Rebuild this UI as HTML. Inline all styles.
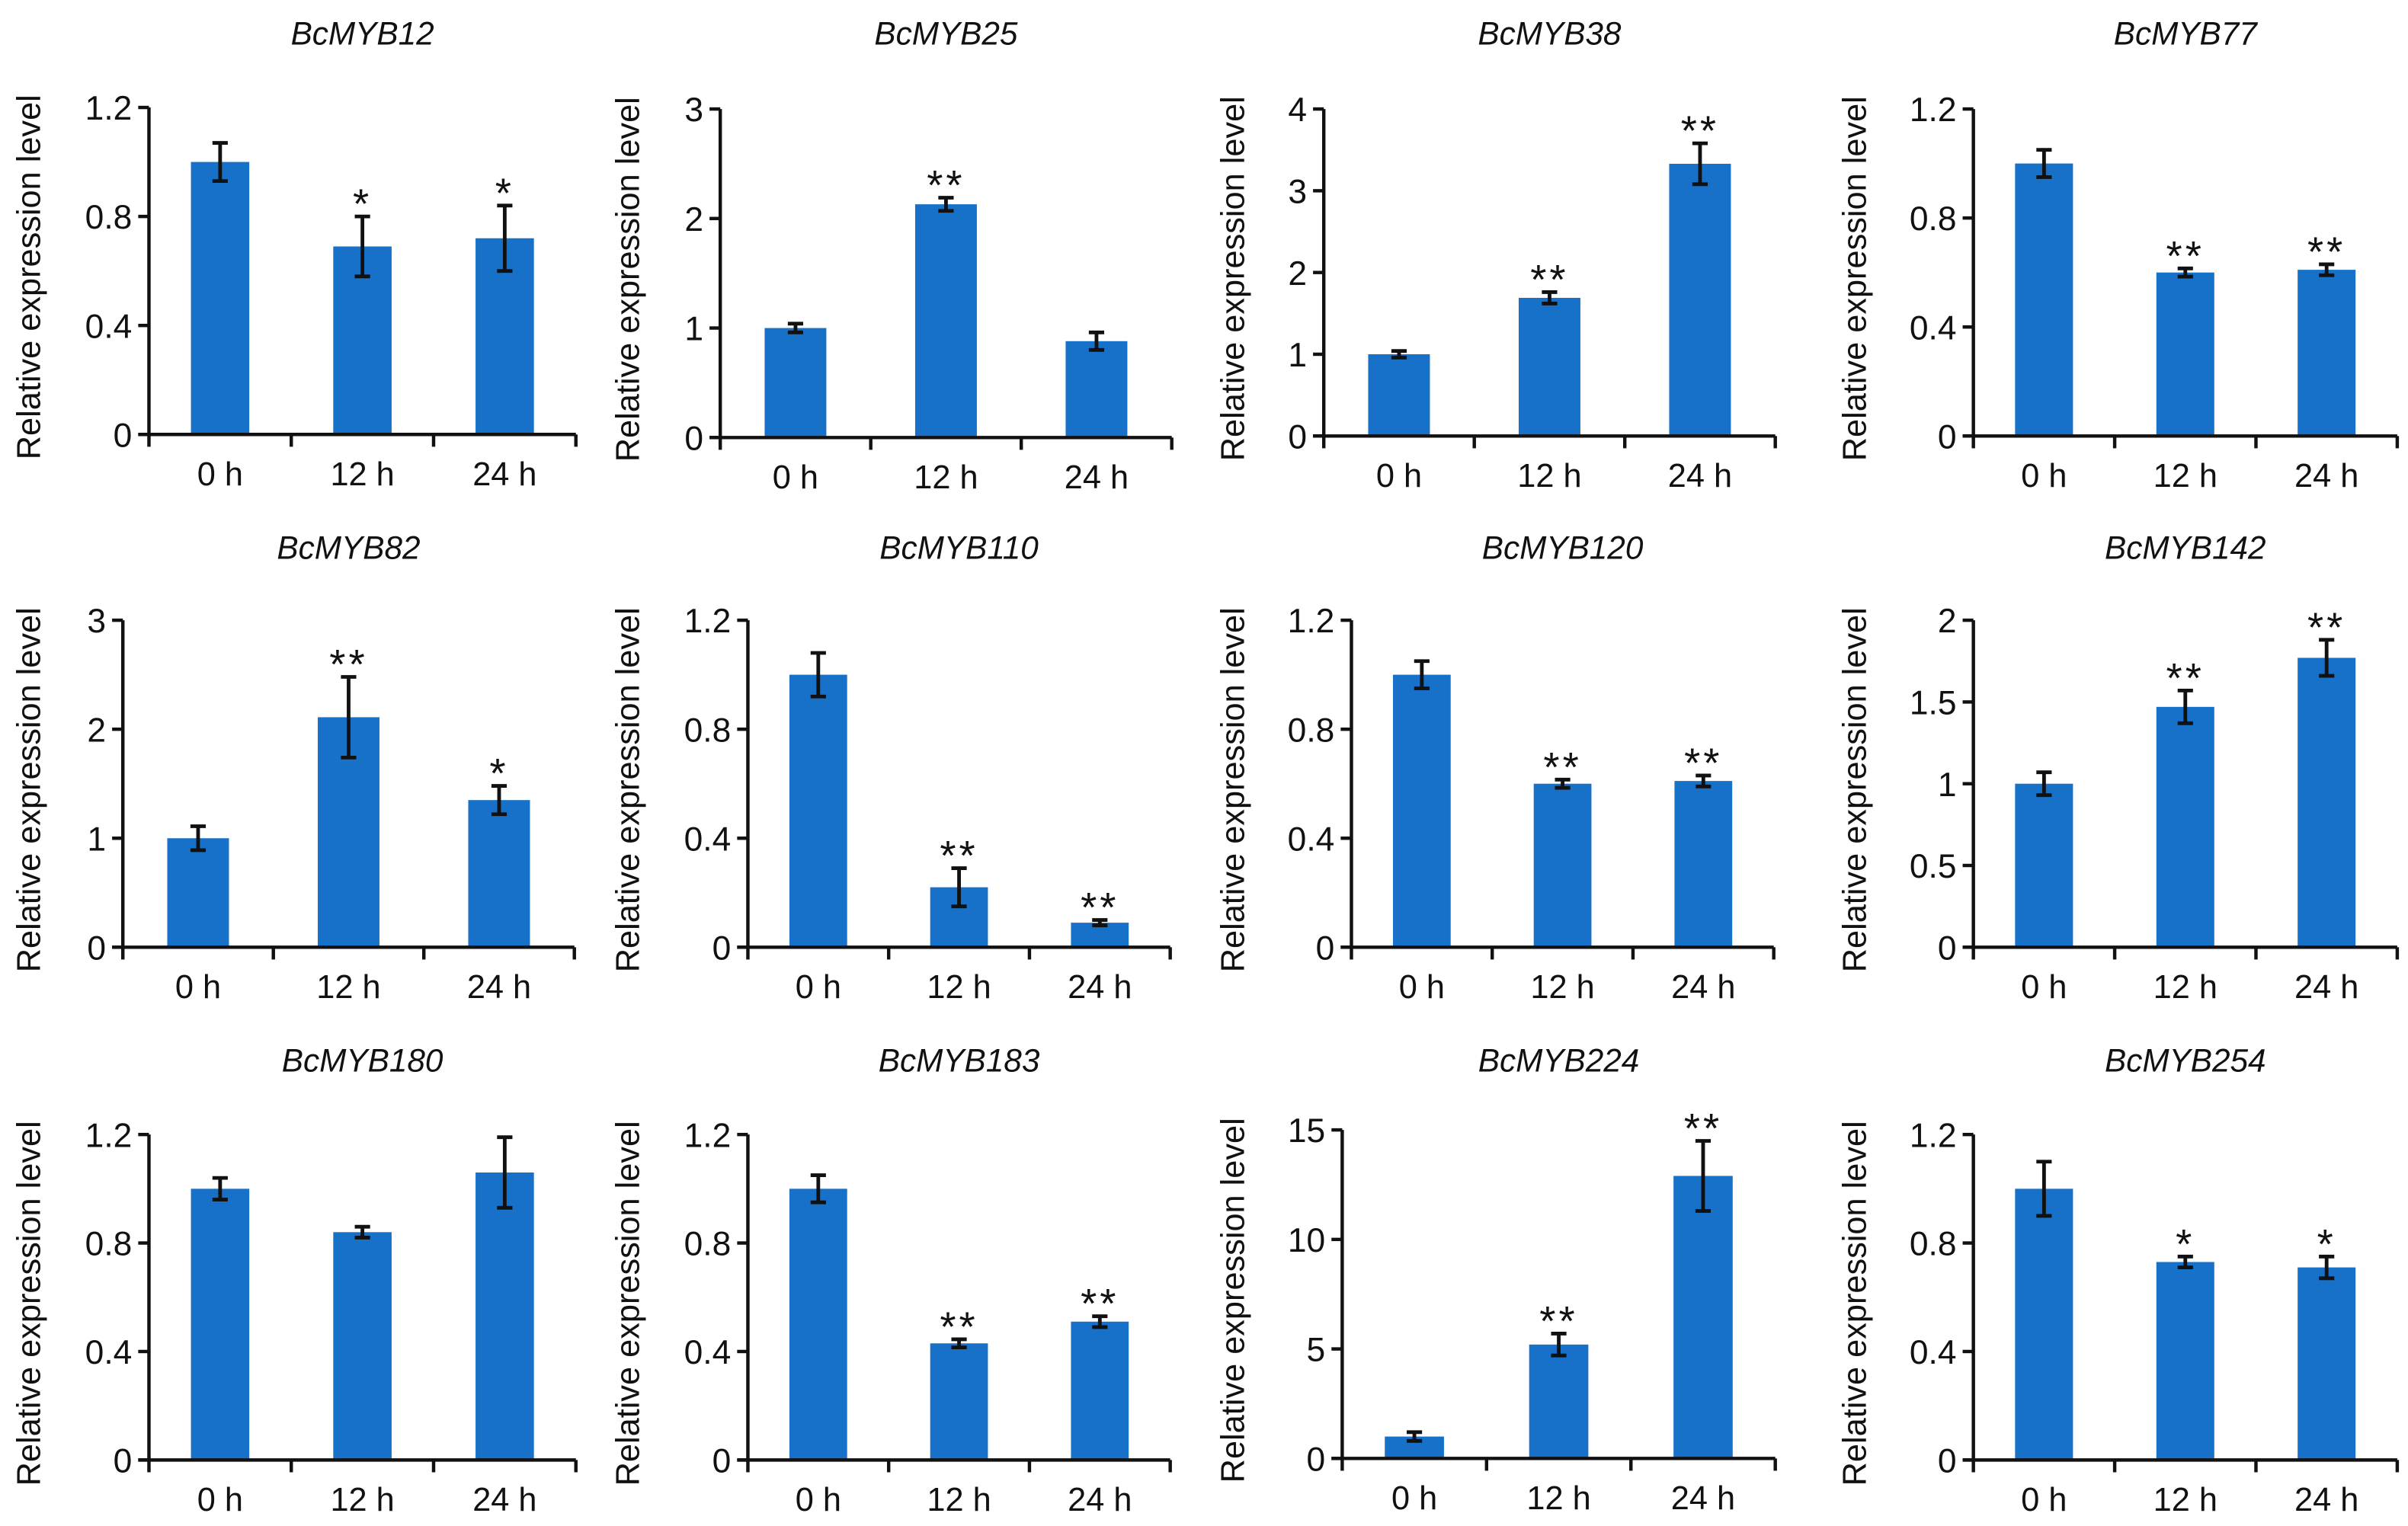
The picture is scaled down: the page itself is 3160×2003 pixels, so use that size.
<!DOCTYPE html>
<html><head><meta charset="utf-8"><style>
html,body{margin:0;padding:0;background:#fff}
svg{display:block}
text{font-family:"Liberation Sans",Arial,sans-serif;fill:#111}
</style></head><body>
<svg id="fig" width="3160" height="2003" viewBox="0 0 1568 994" preserveAspectRatio="none" xmlns="http://www.w3.org/2000/svg"></svg>
<script>
const categories = ["0 h","12 h","24 h"];
const geneNames = ["BcMYB12","BcMYB25","BcMYB38","BcMYB77","BcMYB82","BcMYB110","BcMYB120","BcMYB142","BcMYB180","BcMYB183","BcMYB224","BcMYB254"];
const meanValues = [
 [1.0,0.69,0.72],[1.0,2.13,0.88],[1.0,1.69,3.33],[1.0,0.60,0.61],
 [1.0,2.11,1.35],[1.0,0.22,0.09],[1.0,0.60,0.61],[1.0,1.47,1.77],
 [1.0,0.84,1.06],[1.0,0.43,0.51],[1.0,5.2,12.9],[1.0,0.73,0.71]];
const errorValues = [
 [0.07,0.11,0.12],[0.04,0.06,0.08],[0.04,0.07,0.25],[0.05,0.015,0.02],
 [0.11,0.37,0.13],[0.08,0.07,0.01],[0.05,0.015,0.02],[0.07,0.10,0.11],
 [0.04,0.02,0.13],[0.05,0.015,0.02],[0.2,0.5,1.6],[0.1,0.02,0.04]];
const significance = [
 ["","*","*"],["","**",""],["","**","**"],["","**","**"],
 ["","**","*"],["","**","**"],["","**","**"],["","**","**"],
 ["","",""],["","**","**"],["","**","**"],["","*","*"]];
const yTicks = [
 ["0","0.4","0.8","1.2"],["0","1","2","3"],["0","1","2","3","4"],["0","0.4","0.8","1.2"],
 ["0","1","2","3"],["0","0.4","0.8","1.2"],["0","0.4","0.8","1.2"],["0","0.5","1","1.5","2"],
 ["0","0.4","0.8","1.2"],["0","0.4","0.8","1.2"],["0","5","10","15"],["0","0.4","0.8","1.2"]];
// layout (axis boxes, in viewBox units)
const layout = [
 [97,375,70,283],[469,763,71,285],[862,1156,71,284],[1285,1561,71,284],
 [80,374,404,617],[487,762,404,617],[880,1155,404,617],[1285,1561,404,617],
 [97,375,739,951],[487,762,739,951],[874,1156,736,950],[1285,1561,739,951]];
const titleY=[22,22,22,22,357,357,357,357,691,691,691,691];
const ytitleX=[18,408,802,1207];
const NS="http://www.w3.org/2000/svg";
const svg=document.getElementById('fig');
function mk(tag,attrs,parent){const e=document.createElementNS(NS,tag);for(const k in attrs)e.setAttribute(k,attrs[k]);(parent||svg).appendChild(e);return e;}
geneNames.forEach((g,i)=>{
  const [x0,x1,yt,yb]=layout[i];
  const ticks=yTicks[i]; const ymax=parseFloat(ticks[ticks.length-1]);
  const yS=v=>yb-(v/ymax)*(yb-yt);
  const step=(x1-x0)/categories.length;
  const xC=j=>x0+step*(j+0.5);
  const grp=mk('g',{});
  
  
  const t=mk('text',{x:(x0+x1)/2,y:titleY[i]+7,'text-anchor':'middle','font-size':21,'font-style':'italic'},grp);
  t.textContent=g;
  
  
  const yl=mk('text',{transform:`translate(${ytitleX[i%4]+8},${(yt+yb)/2+4}) rotate(-90)`,'text-anchor':'middle','font-size':21.5},grp);
  yl.textContent='Relative expression level';
  
  
  meanValues[i].forEach((v,j)=>{
    const bw=step*0.41;
    const b=mk('rect',{x:xC(j)-bw/2,y:yS(v),width:bw,height:yb-yS(v),fill:'#1771c8'},grp);
    
    
    const e=errorValues[i][j], top=yS(v+e), bot=yS(Math.max(0,v-e));
    const eg=mk('g',{stroke:'#111','stroke-width':2.4},grp);
    
    
    mk('line',{x1:xC(j),x2:xC(j),y1:top,y2:bot},eg);
    mk('line',{x1:xC(j)-5,x2:xC(j)+5,y1:top,y2:top},eg);
    mk('line',{x1:xC(j)-5,x2:xC(j)+5,y1:bot,y2:bot},eg);
    if(significance[i][j]){
      const s=mk('text',{x:xC(j),y:top+1,'text-anchor':'middle','font-size':27,'letter-spacing':2},grp);
      s.textContent=significance[i][j];
      
      
    }
  });
  const ax=mk('g',{stroke:'#111','stroke-width':2.2},grp);
  
  
  mk('line',{x1:x0,x2:x0,y1:yt,y2:yb},ax);
  mk('line',{x1:x0-7,x2:x1,y1:yb,y2:yb},ax);
  for(let j=0;j<=categories.length;j++) mk('line',{x1:x0+step*j,x2:x0+step*j,y1:yb,y2:yb+8},ax);
  ticks.forEach(tk=>{
    const y=yS(parseFloat(tk));
    mk('line',{x1:x0-7,x2:x0,y1:y,y2:y},ax);
    const tl=mk('text',{x:x0-11,y:y+8,'text-anchor':'end','font-size':22},grp);
    tl.textContent=tk;
    
    
  });
  categories.forEach((c,j)=>{
    const cl=mk('text',{x:xC(j),y:yb+33,'text-anchor':'middle','font-size':21.5},grp);
    cl.textContent=c;
    
    
  });
});
</script>
</body></html>
